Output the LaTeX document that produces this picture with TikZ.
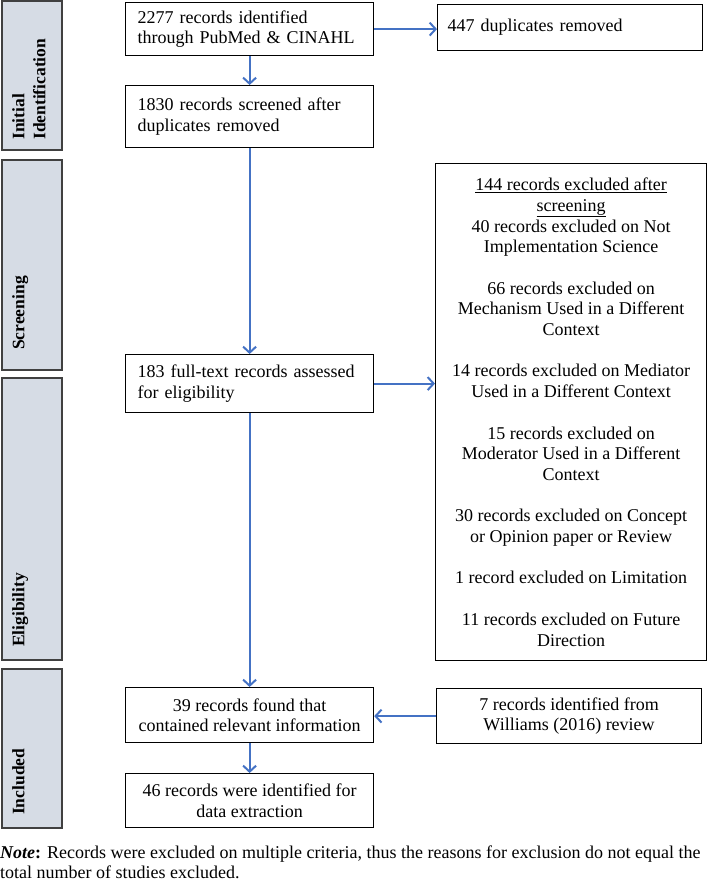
\documentclass[tikz,border=0pt]{standalone}
\usepackage{fontspec}
\setmainfont{Liberation Serif}
\usetikzlibrary{arrows.meta,calc}
\definecolor{flowblue}{HTML}{4472C4}
\definecolor{barfill}{HTML}{D6DCE5}
\definecolor{bardraw}{HTML}{404040}

\begin{document}
\begin{tikzpicture}[x=1pt,y=-1pt,
  box/.style={draw=black,line width=1.2pt,inner xsep=12pt,inner ysep=3pt,anchor=north west,font=\fontsize{18}{20.7}\selectfont},
  leftbox/.style={box,align=left},
  midbox/.style={box,inner xsep=4pt,align=center},
  bar/.style={draw=bardraw,fill=barfill,line width=1.5pt},
  barlabel/.style={rotate=90,anchor=north west,inner sep=0pt,align=left,font=\fontsize{17.5}{21}\selectfont\bfseries},
  flow/.style={draw=flowblue,line width=2pt,-{Straight Barb[length=6pt,width=13pt]}}]
\useasboundingbox (0,0) rectangle (709,890);
% stage bars on the left
\draw[bar] (2,1) rectangle (62,150);
\draw[bar] (2,160) rectangle (62,370);
\draw[bar] (2,378) rectangle (62,660);
\draw[bar] (2,669) rectangle (62,828);
\node[barlabel] (lident) at (12,140) {Initial\\Identification};
\node[barlabel] (lscreen) at (12,350) {Screening};
\node[barlabel] (lelig) at (12,647) {Eligibility};
\node[barlabel] (lincl) at (12,815) {Included};
% flow boxes
\node[leftbox,text width=224pt,minimum height=53pt] (idbox) at (125,2) {2277 records identified\\through PubMed \& CINAHL};
\node[leftbox,text width=245pt,minimum height=46pt,inner xsep=10pt] (dupbox) at (437,4) {447 duplicates removed};
\node[leftbox,text width=224pt,minimum height=62pt] (scrbox) at (125,85) {1830 records screened after\\duplicates removed};
\node[leftbox,text width=224pt,minimum height=58pt] (ftbox) at (125,354) {183 full-text records assessed\\for eligibility};
\node[midbox,minimum width=271pt,minimum height=497pt] (exbox) at (435,163) {\underline{144 records excluded after}\\\underline{screening}\\
  40 records excluded on Not\\Implementation Science\\[20.7pt]
  66 records excluded on\\Mechanism Used in a Different\\Context\\[20.7pt]
  14 records excluded on Mediator\\Used in a Different Context\\[20.7pt]
  15 records excluded on\\Moderator Used in a Different\\Context\\[20.7pt]
  30 records excluded on Concept\\or Opinion paper or Review\\[20.7pt]
  1 record excluded on Limitation\\[20.7pt]
  11 records excluded on Future\\Direction};
\node[midbox,minimum width=248pt,minimum height=55pt] (incbox) at (125,687) {39 records found that\\contained relevant information};
\node[midbox,minimum width=265pt,minimum height=55pt] (wilbox) at (436,688) {7 records identified from\\Williams (2016) review};
\node[midbox,minimum width=248pt,minimum height=54pt] (finbox) at (125,773) {46 records were identified for\\data extraction};
% note
\node[anchor=north west,inner sep=0pt,align=left,font=\fontsize{18}{20}\selectfont] (note) at (0,846)
  {\textbf{\textit{Note}:} Records were excluded on multiple criteria, thus the reasons for exclusion do not equal the\\total number of studies excluded.};
% arrows
\draw[flow] (idbox) -- (scrbox);
\draw[flow] (idbox.east) -- (idbox.east -| dupbox.west);
\draw[flow] (scrbox) -- (ftbox);
\draw[flow] (ftbox.east) -- (ftbox.east -| exbox.west);
\draw[flow] (ftbox) -- (incbox);
\draw[flow] (wilbox.west) -- (wilbox.west -| incbox.east);
\draw[flow] (incbox) -- (finbox);
\end{tikzpicture}
\end{document}
